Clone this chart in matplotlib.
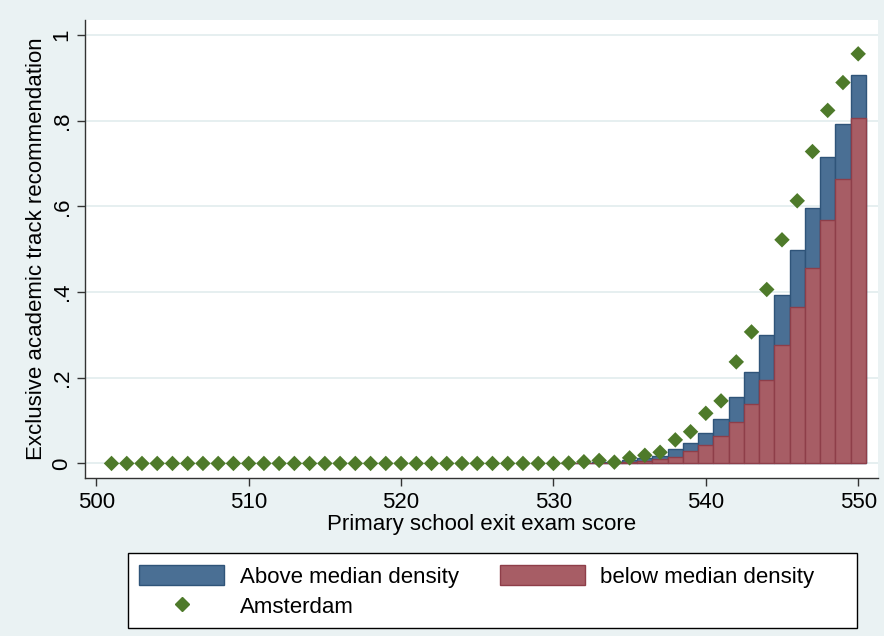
import matplotlib
matplotlib.use("Agg")
import matplotlib.pyplot as plt
from matplotlib.lines import Line2D
from matplotlib.patches import Patch, Rectangle

plt.rcParams['font.family'] = ['Liberation Sans', 'DejaVu Sans']

# Exam scores with bars (531-550)
bar_scores = list(range(531, 551))
above_median = [0.001, 0.002, 0.003, 0.004, 0.007, 0.012, 0.018, 0.033, 0.048, 0.071,
                0.104, 0.154, 0.213, 0.300, 0.393, 0.499, 0.596, 0.716, 0.793, 0.907]
below_median = [0.001, 0.001, 0.002, 0.002, 0.003, 0.006, 0.010, 0.016, 0.028, 0.042,
                0.063, 0.096, 0.138, 0.195, 0.276, 0.364, 0.457, 0.569, 0.664, 0.806]

# Amsterdam share for every score 501-550
ams_scores = list(range(501, 551))
amsterdam = [0.0] * 30 + [0.001, 0.004, 0.007, 0.003, 0.013, 0.019, 0.026, 0.055, 0.074, 0.117,
                          0.146, 0.237, 0.307, 0.406, 0.522, 0.613, 0.728, 0.824, 0.889, 0.956]

x_ticks = [500, 510, 520, 530, 540, 550]
y_ticks = [0, 0.2, 0.4, 0.6, 0.8, 1.0]
y_tick_labels = ["0", ".2", ".4", ".6", ".8", "1"]

bg = "#eaf2f3"
blue = "#4a6f94"
blue_edge = "#2f5479"
red = "#a75d65"
red_edge = "#8e3e49"
green = "#4e7a2a"
fs = 16
W, H = 884, 636

fig = plt.figure(figsize=(W / 100, H / 100), dpi=100, facecolor=bg)
ax = fig.add_axes([85 / W, 1 - 478 / H, 793 / W, 458 / H])
ax.set_facecolor("white")

ax.bar(bar_scores, above_median, width=1.0, color=blue, edgecolor=blue_edge, linewidth=1.0, zorder=2)
ax.bar(bar_scores, below_median, width=1.0, color=red, edgecolor=red_edge, linewidth=1.0, zorder=3)
ax.scatter(ams_scores, amsterdam, marker="D", s=62, color=green, edgecolor="none", zorder=4)

ax.set_xlim(499.26, 551.3)
ax.set_ylim(-0.034, 1.035)
ax.set_xticks(x_ticks)
ax.set_yticks(y_ticks)
ax.set_yticklabels(y_tick_labels, rotation=90, va="center")
ax.tick_params(axis="both", labelsize=fs, length=6, width=1, color="#333333", direction="out")
ax.tick_params(axis="x", pad=4)
ax.tick_params(axis="y", pad=3)
ax.grid(axis="y", color="#e1ecee", linewidth=1.2, zorder=0)
ax.set_axisbelow(True)

for side in ("top", "right"):
    ax.spines[side].set_visible(False)
for side in ("left", "bottom"):
    ax.spines[side].set_color("#333333")
    ax.spines[side].set_linewidth(1)

ax.set_xlabel("Primary school exit exam score", fontsize=fs, labelpad=1)
ax.set_ylabel("Exclusive academic track recommendation", fontsize=fs, labelpad=3)

# Legend box below the plot region
fig.patches.append(Rectangle((128 / W, 1 - 628 / H), 729 / W, 75 / H,
                             transform=fig.transFigure, facecolor="white",
                             edgecolor="black", linewidth=1, zorder=1))

handles = [
    Patch(facecolor=blue, edgecolor=blue_edge, label="Above median density"),
    Line2D([], [], marker="D", linestyle="none", color=green, markersize=7, label="Amsterdam"),
    Patch(facecolor=red, edgecolor=red_edge, label="below median density"),
]
leg = fig.legend(handles=handles, ncol=2, loc="upper left",
                 bbox_to_anchor=(130 / W, 1 - 556 / H),
                 fontsize=fs, frameon=False, handlelength=3.83, handleheight=1.0,
                 handletextpad=0.68, columnspacing=1.85, borderaxespad=0,
                 borderpad=0.42, labelspacing=0.32)
leg.set_zorder(2)

fig.savefig("out.png", dpi=100, facecolor=bg)
